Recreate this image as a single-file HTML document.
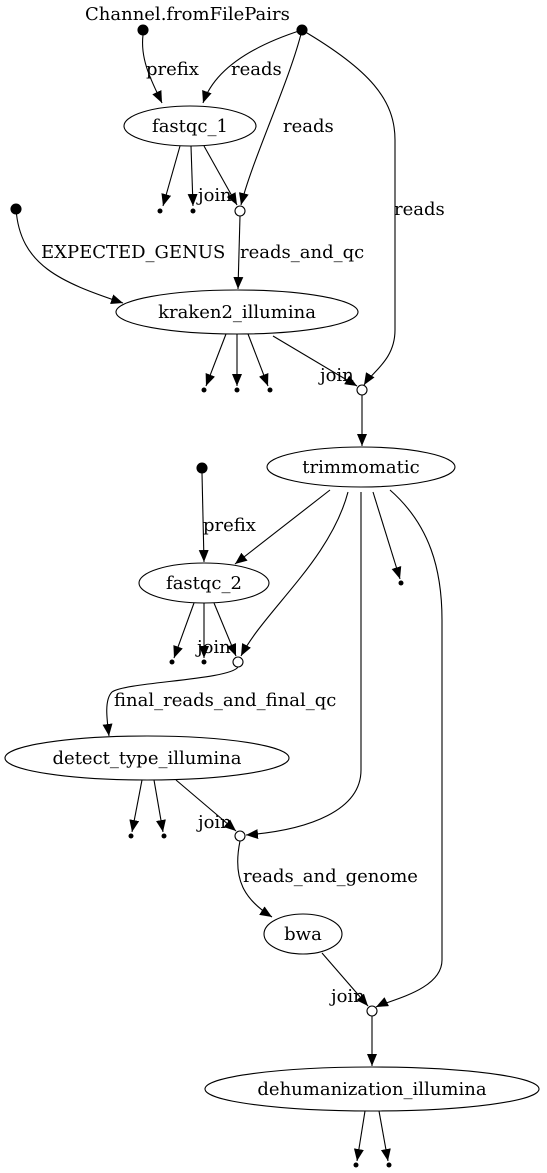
<!DOCTYPE html>
<html><head><meta charset="utf-8"><style>
html,body{margin:0;padding:0;background:#fff}
svg{display:block}
text{font-family:"DejaVu Serif",serif;font-size:18px;fill:#000}
</style></head><body>
<svg width="547" height="1173" viewBox="0 0 547 1173" xmlns="http://www.w3.org/2000/svg">
<defs>
<marker id="a" markerWidth="12" markerHeight="10" refX="12" refY="5" orient="auto" markerUnits="userSpaceOnUse">
<path d="M0,0 L12,5 L0,10 z" fill="#000"/>
</marker>
</defs>
<g fill="none" stroke="#000" stroke-width="1.1">
<path d="M143,35 C140,60 152,82 162,103" marker-end="url(#a)"/>
<path d="M302,30 C255,45 215,68 203,103" marker-end="url(#a)"/>
<path d="M302,30 C290,80 252,160 241,205" marker-end="url(#a)"/>
<path d="M302,30 C370,70 395,100 395,140 L395,330 C395,360 372,372 364,385" marker-end="url(#a)"/>
<path d="M180,146 L163,206" marker-end="url(#a)"/>
<path d="M191,146 L193,206" marker-end="url(#a)"/>
<path d="M204,146 L237,205" marker-end="url(#a)"/>
<path d="M16,209 C20,265 60,282 123,303" marker-end="url(#a)"/>
<path d="M240,216 L238,289" marker-end="url(#a)"/>
<path d="M226,334 L206,386" marker-end="url(#a)"/>
<path d="M237,334 L237,386" marker-end="url(#a)"/>
<path d="M248,334 L268,386" marker-end="url(#a)"/>
<path d="M273,336 L357,386" marker-end="url(#a)"/>
<path d="M362,395 L362,446" marker-end="url(#a)"/>
<path d="M202,473 L204,562" marker-end="url(#a)"/>
<path d="M330,490 L235,564" marker-end="url(#a)"/>
<path d="M348,492 C330,560 265,610 241,656" marker-end="url(#a)"/>
<path d="M361,492 L361,770 C361,810 310,830 246,835" marker-end="url(#a)"/>
<path d="M373,492 L400,579" marker-end="url(#a)"/>
<path d="M390,490 C430,525 442,570 442,620 L442,960 C442,990 390,1000 376,1007" marker-end="url(#a)"/>
<path d="M194,603 L174,658" marker-end="url(#a)"/>
<path d="M204,603 L204,658" marker-end="url(#a)"/>
<path d="M214,603 L236,656" marker-end="url(#a)"/>
<path d="M238,667 C230,680 125,682 112,692 C104,700 107,720 109,736" marker-end="url(#a)"/>
<path d="M142,780 L132,832" marker-end="url(#a)"/>
<path d="M154,780 L163,832" marker-end="url(#a)"/>
<path d="M176,780 L236,831" marker-end="url(#a)"/>
<path d="M240,841 C232,880 245,900 272,917" marker-end="url(#a)"/>
<path d="M322,953 L368,1006" marker-end="url(#a)"/>
<path d="M372,1016 L372,1066" marker-end="url(#a)"/>
<path d="M365,1111 L357,1161" marker-end="url(#a)"/>
<path d="M379,1111 L388,1161" marker-end="url(#a)"/>
</g>
<g stroke="#000" stroke-width="1.1">
<circle cx="143" cy="30" r="5" fill="#000"/>
<circle cx="302" cy="30" r="5" fill="#000"/>
<circle cx="16" cy="209" r="5" fill="#000"/>
<circle cx="202" cy="468" r="5" fill="#000"/>
<ellipse cx="190" cy="126" rx="66" ry="20" fill="#fff"/>
<ellipse cx="237" cy="312" rx="121" ry="22" fill="#fff"/>
<ellipse cx="361" cy="467" rx="94" ry="20" fill="#fff"/>
<ellipse cx="204" cy="583" rx="65" ry="20" fill="#fff"/>
<ellipse cx="147" cy="758" rx="142" ry="22" fill="#fff"/>
<ellipse cx="303" cy="934" rx="39" ry="20" fill="#fff"/>
<ellipse cx="372" cy="1089" rx="167" ry="22" fill="#fff"/>
<circle cx="240" cy="211" r="5" fill="#fff"/>
<circle cx="362" cy="390" r="5" fill="#fff"/>
<circle cx="238" cy="662" r="5" fill="#fff"/>
<circle cx="240" cy="836" r="5" fill="#fff"/>
<circle cx="372" cy="1011" r="5" fill="#fff"/>
</g>
<g fill="#000">
<circle cx="160" cy="211" r="2.5"/><circle cx="193" cy="211" r="2.5"/>
<circle cx="204" cy="390" r="2.5"/><circle cx="237" cy="390" r="2.5"/><circle cx="270" cy="390" r="2.5"/>
<circle cx="401" cy="583" r="2.5"/>
<circle cx="172" cy="662" r="2.5"/><circle cx="204" cy="662" r="2.5"/>
<circle cx="131" cy="836" r="2.5"/><circle cx="164" cy="836" r="2.5"/>
<circle cx="356" cy="1165" r="2.5"/><circle cx="389" cy="1165" r="2.5"/>
</g>
<text x="85" y="20">Channel.fromFilePairs</text>
<text x="146" y="75">prefix</text>
<text x="231" y="75">reads</text>
<text x="283" y="132">reads</text>
<text x="394" y="215">reads</text>
<text x="190" y="132" text-anchor="middle">fastqc_1</text>
<text x="198" y="201">join</text>
<text x="41" y="258">EXPECTED_GENUS</text>
<text x="240" y="258">reads_and_qc</text>
<text x="237" y="318" text-anchor="middle">kraken2_illumina</text>
<text x="320" y="381">join</text>
<text x="361" y="473" text-anchor="middle">trimmomatic</text>
<text x="203" y="531">prefix</text>
<text x="204" y="589" text-anchor="middle">fastqc_2</text>
<text x="197" y="653">join</text>
<text x="114" y="706">final_reads_and_final_qc</text>
<text x="147" y="764" text-anchor="middle">detect_type_illumina</text>
<text x="198" y="828">join</text>
<text x="243" y="882">reads_and_genome</text>
<text x="303" y="940" text-anchor="middle">bwa</text>
<text x="331" y="1002">join</text>
<text x="372" y="1095" text-anchor="middle">dehumanization_illumina</text>
</svg>
</body></html>
